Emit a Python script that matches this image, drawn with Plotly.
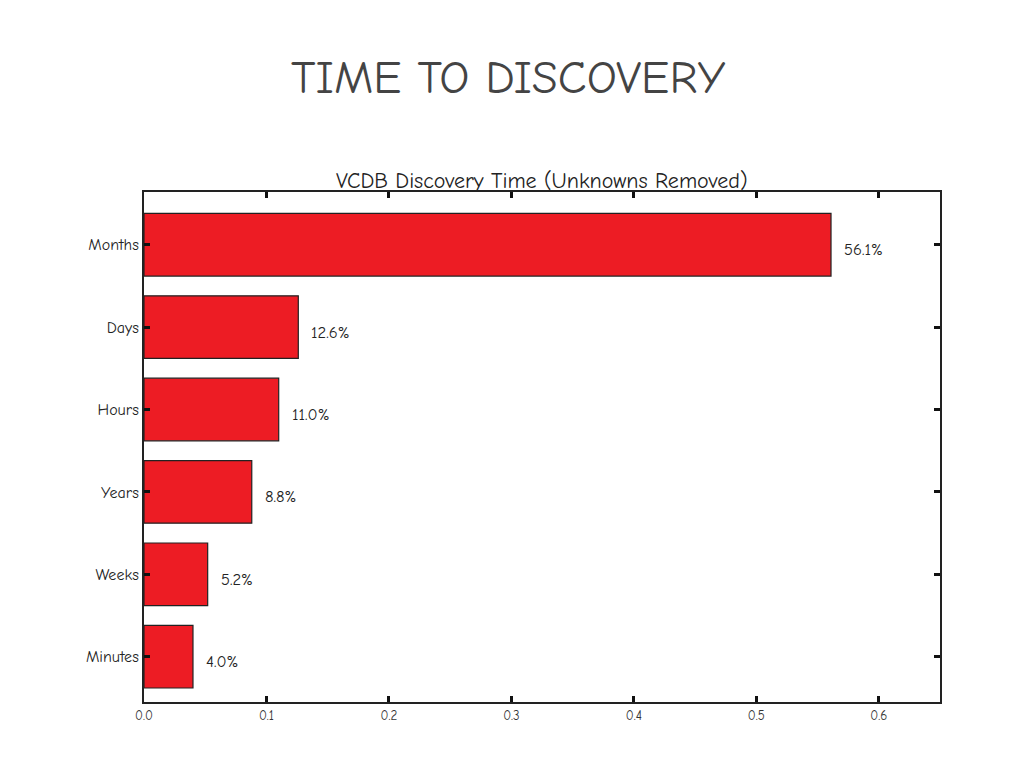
import plotly.graph_objects as go

categories = ["Minutes", "Weeks", "Years", "Hours", "Days", "Months"]
values = [0.040, 0.052, 0.088, 0.110, 0.126, 0.561]
labels = ["4.0%", "5.2%", "8.8%", "11.0%", "12.6%", "56.1%"]
x_ticks = [0.0, 0.1, 0.2, 0.3, 0.4, 0.5, 0.6]
x_tick_labels = ["0.0", "0.1", "0.2", "0.3", "0.4", "0.5", "0.6"]

FONT = "Comic Sans MS, Comic Neue, Lato, DejaVu Sans, sans-serif"

fig = go.Figure()
fig.add_trace(go.Bar(
    y=categories, x=values, orientation="h",
    marker=dict(color="#ED1C24", line=dict(color="#222222", width=1.2)),
    width=0.76,
    hoverinfo="skip",
))

annotations = [
    dict(text="TIME TO DISCOVERY", xref="paper", yref="paper",
         x=0.457, y=1.0, yshift=114, showarrow=False,
         xanchor="center", yanchor="middle",
         font=dict(family=FONT, size=47, color="#444444")),
    dict(text="VCDB Discovery Time (Unknowns Removed)", xref="paper", yref="paper",
         x=0.5, y=1.0, yshift=11, showarrow=False,
         xanchor="center", yanchor="middle",
         font=dict(family=FONT, size=22, color="#222222")),
]
for c, v, t in zip(categories, values, labels):
    annotations.append(dict(
        text=t, x=v, y=c, xref="x", yref="y", showarrow=False,
        xanchor="left", yanchor="middle", xshift=11, yshift=-5,
        font=dict(family=FONT, size=16.5, color="#222222"),
    ))

fig.update_layout(
    width=1024, height=768,
    paper_bgcolor="white", plot_bgcolor="white",
    margin=dict(l=136, r=92, t=184, b=74),
    showlegend=False,
    font=dict(family=FONT, color="#222222"),
    xaxis=dict(
        range=[0, 0.65], tickvals=x_ticks, ticktext=x_tick_labels,
        showgrid=False, zeroline=False,
        showline=True, linecolor="#222222", linewidth=2, mirror="ticks",
        ticks="inside", ticklen=6, tickwidth=2.5, tickcolor="#111111",
        tickfont=dict(size=13, color="#333333"),
    ),
    yaxis=dict(
        range=[-0.55, 5.64],
        showgrid=False, zeroline=False,
        showline=True, linecolor="#222222", linewidth=2, mirror="ticks",
        ticks="inside", ticklen=6, tickwidth=2.5, tickcolor="#111111",
        tickfont=dict(size=16, color="#222222"),
    ),
    annotations=annotations,
)

fig.write_html("out.html")
